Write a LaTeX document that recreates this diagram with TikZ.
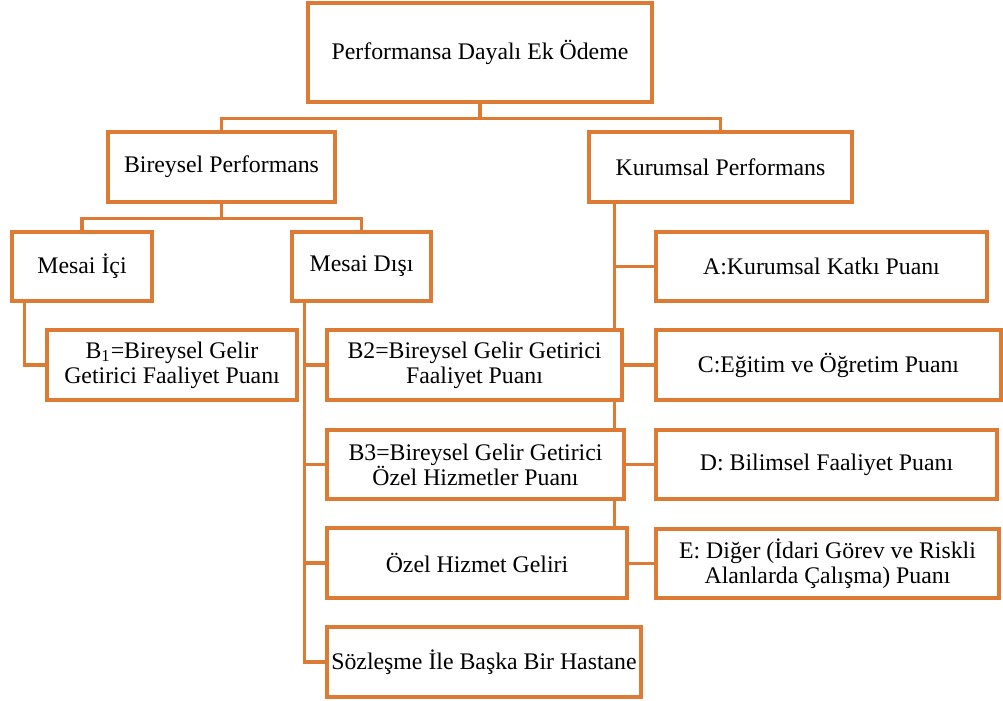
\documentclass[tikz,border=0pt]{standalone}
\usepackage{fontspec}
\setmainfont{Liberation Serif}
\usetikzlibrary{backgrounds}
\definecolor{orng}{RGB}{221,122,52}
\tikzset{
  box/.style={draw=orng, line width=1.7pt, fill=white, inner sep=0pt,
              align=center, font=\fontsize{11.9}{12.4}\selectfont},
  % a box spanning the corners (#1,#2) and (#3,#4), in the picture's units
  span/.style n args={4}{minimum width={(#3-#1)*0.5pt}, minimum height={(#4-#2)*0.5pt},
                         at={({(#1+#3)/2},{(#2+#4)/2})}},
  link/.style={draw=orng, line width=1.6pt},
}
\begin{document}
\begin{tikzpicture}[x=0.5pt, y=-0.5pt]
\useasboundingbox (0,0) rectangle (1003,701);

% top level
\node[box, span={308}{3}{652}{102}] (top) {Performansa Dayalı Ek Ödeme};

% second level
\node[box, span={108}{132}{335}{202}] (bir) {Bireysel Performans};
\node[box, span={589}{132}{852}{202}] (kur) {Kurumsal Performans};

% individual branch
\node[box, span={12}{232}{152}{301}] (ici) {Mesai İçi};
\node[box, span={292}{232}{431}{301}] (disi) {Mesai Dışı};
\node[box, span={47}{330}{297}{400}] (b1) {B\textsubscript{1}=Bireysel Gelir\\Getirici Faaliyet Puanı};
\node[box, span={327}{330}{622}{400}] (b2) {B2=Bireysel Gelir Getirici\\Faaliyet Puanı};
\node[box, span={327}{430}{624}{499}] (b3) {B3=Bireysel Gelir Getirici\\Özel Hizmetler Puanı};
\node[box, span={327}{528}{627}{598}] (ozel) {Özel Hizmet Geliri};
\node[box, span={327}{627}{641}{697}] (soz) {Sözleşme İle Başka Bir Hastane};

% institutional branch
\node[box, span={656}{232}{987}{301}] (a) {A:Kurumsal Katkı Puanı};
\node[box, span={656}{330}{1001}{400}] (c) {C:Eğitim ve Öğretim Puanı};
\node[box, span={656}{430}{997}{499}] (d) {D: Bilimsel Faaliyet Puanı};
\node[box, span={656}{529}{999}{598}] (e) {E: Diğer (İdari Görev ve Riskli\\Alanlarda Çalışma) Puanı};

% connectors, kept behind the boxes
\begin{pgfonlayer}{background}
  \draw[link] (top.south) -- ++(0,15) coordinate (j0);
  \draw[link] (j0) -| (bir.north);
  \draw[link] (j0) -| (kur.north);

  \draw[link] (bir.south) -- ++(0,15) coordinate (j1);
  \draw[link] (j1) -| (ici.north);
  \draw[link] (j1) -| (disi.north);

  \path (ici.south west) ++(14,0) coordinate (i0);
  \draw[link] (i0) |- (b1.west);

  \path (disi.south west) ++(14,0) coordinate (d0);
  \draw[link] (d0) |- (b2.west);
  \draw[link] (d0) |- (b3.west);
  \draw[link] (d0) |- (ozel.west);
  \draw[link] (d0) |- (soz.west);

  \path (kur.south west) ++(27,0) coordinate (k0);
  \draw[link] (k0) |- (a.west);
  \draw[link] (k0) |- (c.west);
  \draw[link] (k0) |- (d.west);
  \draw[link] (k0) |- (e.west);
\end{pgfonlayer}
\end{tikzpicture}
\end{document}
